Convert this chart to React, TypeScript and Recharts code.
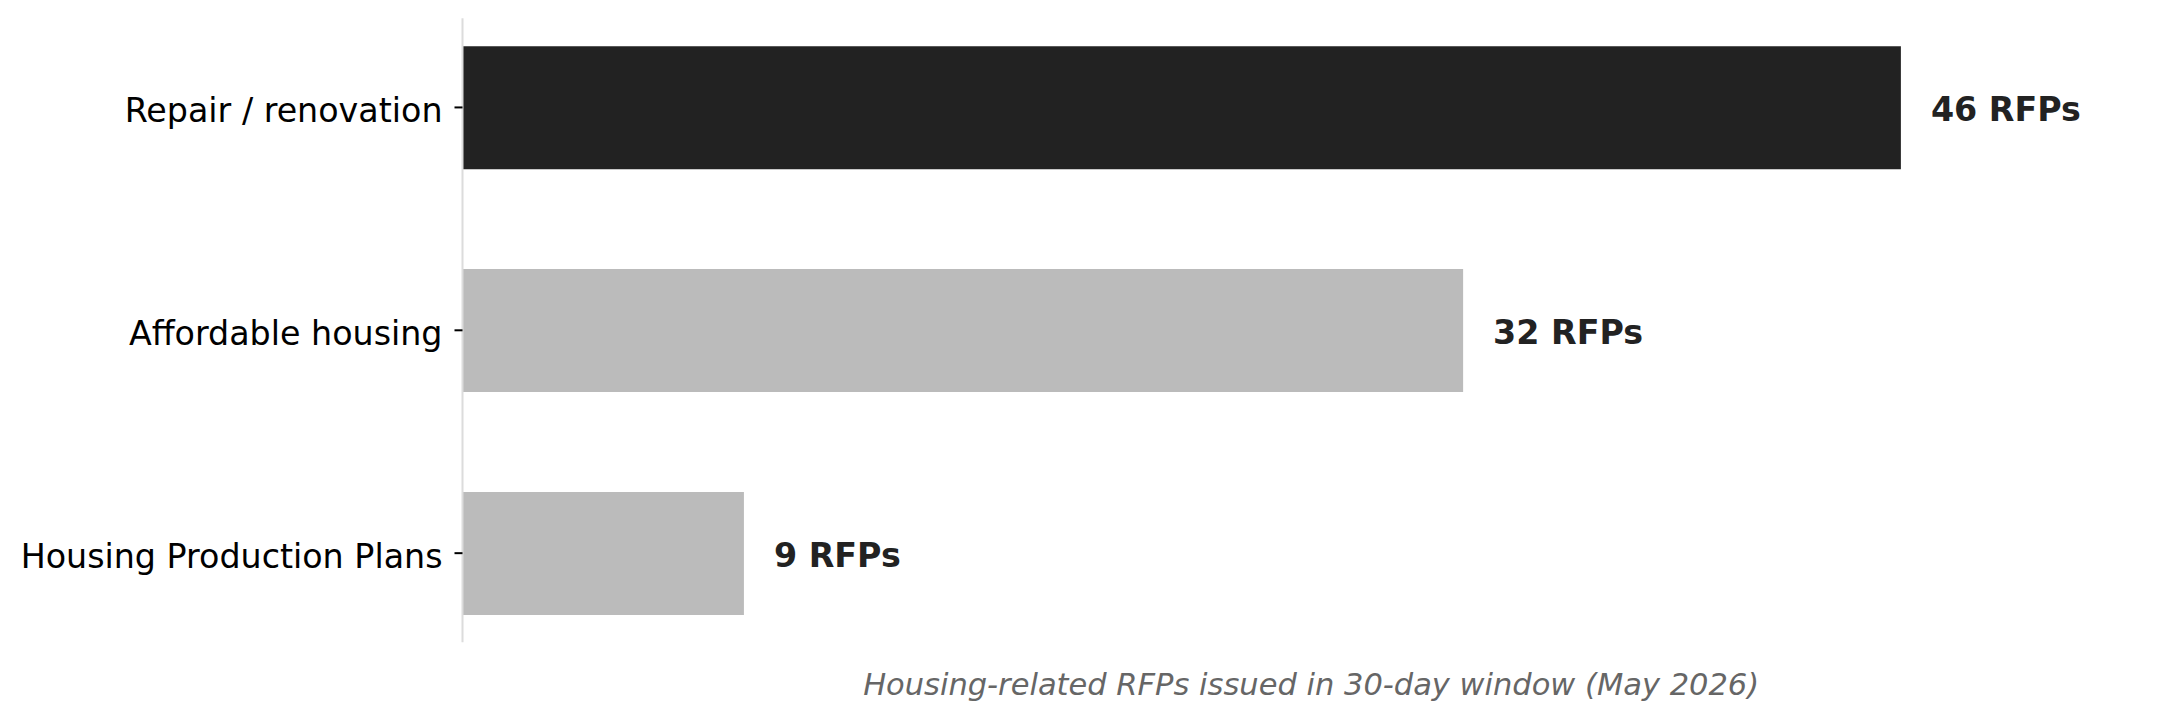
import React from 'react';
import { BarChart, Bar, XAxis, YAxis, Cell, LabelList, Label } from 'recharts';

const categories = ['Repair / renovation', 'Affordable housing', 'Housing Production Plans'];
const rfpCounts = [46, 32, 9];
const barColors = ['#222222', '#bbbbbb', '#bbbbbb'];
const xMax = 54.28;
const subtitle = 'Housing-related RFPs issued in 30-day window (May 2026)';

const data = categories.map((name, i) => ({ name, value: rfpCounts[i] }));

const FONT = '"DejaVu Sans", sans-serif';

const App: React.FC = () => {
  return (
    <div style={{ position: 'absolute', left: 0, top: 0, width: 2179, height: 719, background: '#fff' }}>
      <BarChart
        width={2179}
        height={719}
        data={data}
        layout="vertical"
        margin={{ top: 18.3, right: 19.2, bottom: 0, left: 0 }}
        barCategoryGap="22.5%"
      >
        <XAxis
          type="number"
          domain={[0, xMax]}
          allowDataOverflow
          height={76.7}
          tick={false}
          tickLine={false}
          axisLine={false}
        >
          <Label
            value={subtitle}
            position="insideTop"
            offset={30.7}
            style={{ fontFamily: FONT, fontSize: 30.5, fontStyle: 'italic', fill: '#666666' }}
          />
        </XAxis>
        <YAxis
          type="category"
          dataKey="name"
          width={462.5}
          padding={{ top: -22.3, bottom: -22.3 }}
          axisLine={{ stroke: '#dcdcdc', strokeWidth: 2 }}
          tickLine={{ stroke: '#000000', strokeWidth: 2 }}
          tickSize={8}
          tickMargin={12}
          tick={{ fontFamily: FONT, fontSize: 33.3, fill: '#000000', dy: 3 }}
          interval={0}
        />
        <Bar dataKey="value" isAnimationActive={false}>
          {data.map((entry, index) => (
            <Cell key={`cell-${index}`} fill={barColors[index]} />
          ))}
          <LabelList
            dataKey="value"
            position="right"
            offset={30}
            dy={1.5}
            formatter={(v: number) => `${v} RFPs`}
            style={{ fontFamily: FONT, fontSize: 33.3, fontWeight: 'bold', fill: '#222222' }}
          />
        </Bar>
      </BarChart>
    </div>
  );
};

export default App;
